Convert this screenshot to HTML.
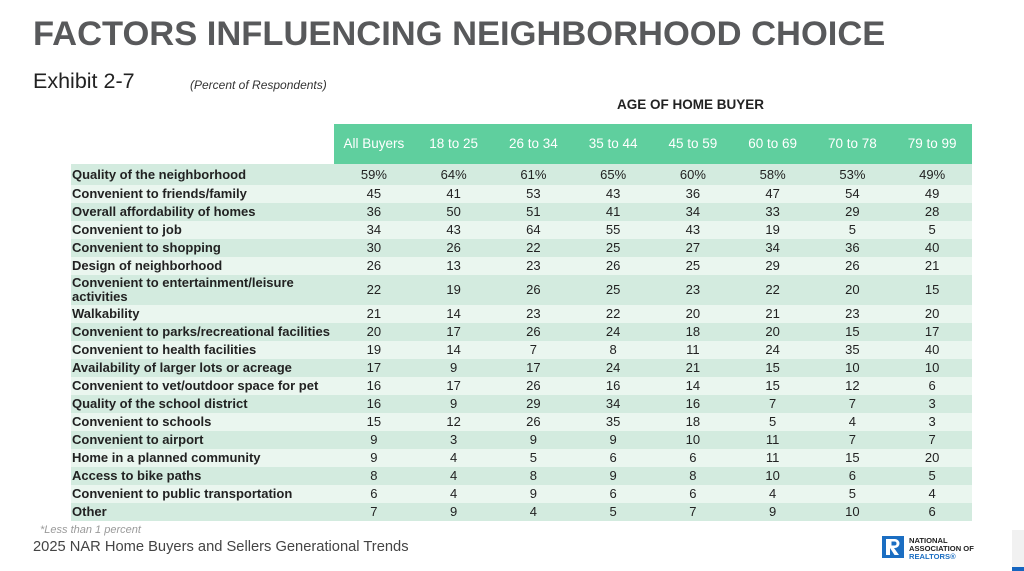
<!DOCTYPE html>
<html><head><meta charset="utf-8">
<style>
*{margin:0;padding:0;box-sizing:border-box}
body{width:1024px;height:571px;background:#fff;position:relative;overflow:hidden;font-family:"Liberation Sans",Arial,sans-serif;color:#222}
.abs{position:absolute;white-space:nowrap}
.title{left:33px;top:15px;font-size:34.5px;font-weight:bold;color:#58595b;letter-spacing:0px}
.exh{left:33px;top:69px;font-size:21.5px;color:#222}
.pct{left:190px;top:78px;font-size:12px;font-style:italic;color:#333}
.age{left:617px;top:97px;font-size:13.5px;font-weight:bold;color:#222}
.hdr{left:334px;top:124px;width:638px;height:40px;background:#5fcf9e}
.hc{position:absolute;top:0;height:40px;line-height:40px;width:79.75px;text-align:center;color:#fff;font-size:13.5px}
.row{position:absolute;left:71px;width:901px}
.row .lb{position:absolute;left:1px;top:0;font-size:13px;font-weight:bold;color:#222;white-space:nowrap}
.row .v{position:absolute;top:0;width:79.75px;text-align:center;font-size:13px;color:#222}
.d{background:#d3ebdf}
.l{background:#eaf6ef}
.foot{left:40px;top:524px;font-size:11px;font-style:italic;color:#9a9a9a}
.src{left:33px;top:539px;font-size:14.7px;color:#444}
.logo{left:882px;top:536px;width:22px;height:22px;background:#1b6ec2}
.lt{left:909px;font-size:7.6px;font-weight:bold;line-height:8px}
</style></head><body>
<div class="abs title">FACTORS INFLUENCING NEIGHBORHOOD CHOICE</div>
<div class="abs exh">Exhibit 2-7</div>
<div class="abs pct">(Percent of Respondents)</div>
<div class="abs age">AGE OF HOME BUYER</div>
<div class="abs hdr">
<div class="hc" style="left:0">All Buyers</div>
<div class="hc" style="left:79.75px">18 to 25</div>
<div class="hc" style="left:159.5px">26 to 34</div>
<div class="hc" style="left:239.25px">35 to 44</div>
<div class="hc" style="left:319px">45 to 59</div>
<div class="hc" style="left:398.75px">60 to 69</div>
<div class="hc" style="left:478.5px">70 to 78</div>
<div class="hc" style="left:558.25px">79 to 99</div>
</div>
<div id="rows"></div>
<script>
var data=[
["Quality of the neighborhood",["59%","64%","61%","65%","60%","58%","53%","49%"],164,21],
["Convenient to friends/family",[45,41,53,43,36,47,54,49],185,18],
["Overall affordability of homes",[36,50,51,41,34,33,29,28],203,18],
["Convenient to job",[34,43,64,55,43,19,5,5],221,18],
["Convenient to shopping",[30,26,22,25,27,34,36,40],239,18],
["Design of neighborhood",[26,13,23,26,25,29,26,21],257,18],
["Convenient to entertainment/leisure<br>activities",[22,19,26,25,23,22,20,15],275,30],
["Walkability",[21,14,23,22,20,21,23,20],305,18],
["Convenient to parks/recreational facilities",[20,17,26,24,18,20,15,17],323,18],
["Convenient to health facilities",[19,14,7,8,11,24,35,40],341,18],
["Availability of larger lots or acreage",[17,9,17,24,21,15,10,10],359,18],
["Convenient to vet/outdoor space for pet",[16,17,26,16,14,15,12,6],377,18],
["Quality of the school district",[16,9,29,34,16,7,7,3],395,18],
["Convenient to schools",[15,12,26,35,18,5,4,3],413,18],
["Convenient to airport",[9,3,9,9,10,11,7,7],431,18],
["Home in a planned community",[9,4,5,6,6,11,15,20],449,18],
["Access to bike paths",[8,4,8,9,8,10,6,5],467,18],
["Convenient to public transportation",[6,4,9,6,6,4,5,4],485,18],
["Other",[7,9,4,5,7,9,10,6],503,18]
];
var h="";
data.forEach(function(r,i){
 var cls=i%2==0?"d":"l";
 var lbTop=r[3]==30?1:0;
 var lh=r[3]==30?"line-height:14px;":"line-height:"+r[3]+"px;";
 h+='<div class="row '+cls+'" style="top:'+r[2]+'px;height:'+r[3]+'px">';
 h+='<div class="lb" style="'+lh+'top:'+lbTop+'px">'+r[0]+'</div>';
 for(var j=0;j<8;j++){
  h+='<div class="v" style="left:'+(263+j*79.75)+'px;line-height:'+r[3]+'px">'+r[1][j]+'</div>';
 }
 h+='</div>';
});
document.getElementById("rows").innerHTML=h;
</script>
<div class="abs foot">*Less than 1 percent</div>
<div class="abs src">2025 NAR Home Buyers and Sellers Generational Trends</div>
<div class="abs logo"><svg width="22" height="22" viewBox="0 0 22 22"><rect x="4" y="3" width="4" height="16" fill="#fff"/><path d="M8 3h5a4.5 4.5 0 0 1 0 9h-1l5 7h-4.5l-4.5-7z" fill="#fff"/><path d="M9.5 5.5h3a2 2 0 0 1 0 4h-3z" fill="#1b6ec2"/></svg></div>
<div class="abs lt" style="top:537px;color:#222">NATIONAL</div>
<div class="abs lt" style="top:545px;color:#222">ASSOCIATION OF</div>
<div class="abs lt" style="top:553px;color:#1b6ec2">REALTORS®</div>
<div class="abs" style="left:1012px;top:530px;width:12px;height:37px;background:#f1f1f1"></div>
<div class="abs" style="left:1012px;top:567px;width:12px;height:4px;background:#1565c0"></div>
</body></html>
